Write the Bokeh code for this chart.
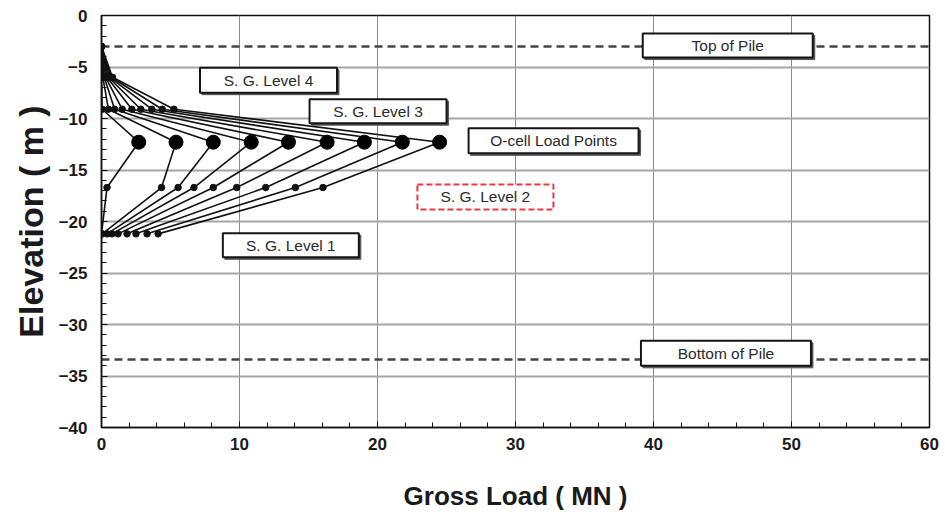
from bokeh.plotting import figure
from bokeh.models import Range1d, FixedTicker, Span
from bokeh.embed import file_html
from bokeh.resources import INLINE
from bokeh.core.properties import value

# ---- data -------------------------------------------------------------
# elevations of the gauge levels (m)
elev_top = -3.0
elev_sg4 = -6.0
elev_sg3 = -9.1
elev_ocell = -12.3
elev_sg2 = -16.7
elev_sg1 = -21.2
elev_bottom = -33.4

# gross load (MN) at each level, one value per load step
load_top = [0.0, 0.0, 0.0, 0.0, 0.0, 0.0, 0.0, 0.0, 0.0]
load_sg4 = [0.0, 0.1, 0.2, 0.3, 0.4, 0.5, 0.6, 0.7, 0.8]
load_sg3 = [0.05, 0.5, 0.95, 1.5, 2.2, 2.85, 3.65, 4.4, 5.25]
load_ocell = [2.7, 5.4, 8.1, 10.85, 13.55, 16.35, 19.05, 21.8, 24.5]
load_sg2 = [0.4, 4.35, 5.55, 6.7, 8.1, 9.8, 11.9, 14.05, 16.05]
load_sg1 = [0.0, 0.05, 0.4, 0.75, 1.2, 1.85, 2.5, 3.3, 4.1]

x_ticks = [0, 10, 20, 30, 40, 50, 60]
y_ticks = [0, -5, -10, -15, -20, -25, -30, -35, -40]

# annotation boxes: text, x, y (data), width, height (px)
box_text = ["Top of Pile", "Bottom of Pile", "S. G. Level 4", "S. G. Level 3",
            "O-cell Load Points", "S. G. Level 1"]
box_x = [45.38, 45.25, 12.1, 20.04, 32.76, 13.72]
box_y = [-2.92, -32.8, -6.28, -9.29, -12.17, -22.31]
box_w = [170, 170, 137, 137, 170, 136]
box_h = [24, 25, 25, 24, 25, 24]

red_text = ["S. G. Level 2"]
red_x = [27.82]
red_y = [-17.62]
red_w = [136]
red_h = [25]

# ---- figure -----------------------------------------------------------
W, H = 944, 517
ML, MR, MT, MB = 101, 15, 15, 90
x0, x1, y0, y1 = 0, 60, -40, 0

p = figure(width=W, height=H, output_backend="svg", toolbar_location=None,
           x_range=Range1d(x0, x1), y_range=Range1d(y0, y1),
           min_border_left=ML, min_border_right=MR, min_border_top=MT,
           min_border_bottom=MB)
p.background_fill_color = "white"
p.border_fill_color = "white"
p.outline_line_color = "#111111"
p.outline_line_width = 1.5

px_x = (W - ML - MR) / (x1 - x0)
px_y = (H - MT - MB) / (y1 - y0)

p.xaxis.ticker = FixedTicker(ticks=x_ticks, minor_ticks=list(range(0, 61, 2)))
p.yaxis.ticker = FixedTicker(ticks=y_ticks, minor_ticks=list(range(-40, 1, 1)))

for ax in (p.xaxis[0], p.yaxis[0]):
    ax.axis_line_color = "#111111"
    ax.axis_line_width = 1.5
    ax.major_tick_in = 6
    ax.major_tick_out = 0
    ax.minor_tick_in = 5
    ax.minor_tick_out = 0
    ax.major_tick_line_color = "#111111"
    ax.minor_tick_line_color = "#111111"
    ax.major_label_text_font = "Liberation Sans"
    ax.major_label_text_font_style = "bold"
    ax.major_label_text_font_size = "17px"
    ax.major_label_text_color = "#1a1a1a"
    ax.axis_label_text_font = "Liberation Sans"
    ax.axis_label_text_font_style = "bold"
    ax.axis_label_text_color = "#1a1a1a"

p.xaxis.axis_label = "Gross Load ( MN )"
p.xaxis.axis_label_text_font_size = "26px"
p.xaxis.major_label_standoff = 10
p.xaxis.axis_label_standoff = 28

p.yaxis.axis_label = "Elevation ( m )"
p.yaxis.axis_label_text_font_size = "34px"
p.yaxis.major_label_standoff = 14
p.yaxis.axis_label_standoff = 6

p.xgrid.grid_line_color = "#8a8a8a"
p.xgrid.grid_line_width = 1
p.ygrid.grid_line_color = "#a5a5a5"
p.ygrid.grid_line_width = 2

for loc in (elev_top, elev_bottom):
    p.add_layout(Span(location=loc, dimension="width", line_color="#444444",
                      line_width=2.5, line_dash="8 5", level="underlay"))

# ---- load distribution curves ---------------------------------------
elevs = [elev_top, elev_sg4, elev_sg3, elev_ocell, elev_sg2, elev_sg1]
xs, ys = [], []
for i in range(len(load_ocell)):
    xs.append([load_top[i], load_sg4[i], load_sg3[i], load_ocell[i],
               load_sg2[i], load_sg1[i]])
    ys.append(elevs)
p.multi_line(xs, ys, line_color="#111111", line_width=1.6)

small_x = load_top + load_sg4 + load_sg3 + load_sg2 + load_sg1
small_y = ([elev_top] * 9 + [elev_sg4] * 9 + [elev_sg3] * 9 +
           [elev_sg2] * 9 + [elev_sg1] * 9)
p.scatter(small_x, small_y, size=6.5, fill_color="#111111",
          line_color="#111111")
p.scatter(load_ocell, [elev_ocell] * len(load_ocell), size=14,
          fill_color="#000000", line_color="#000000")

# ---- annotation boxes -----------------------------------------------
dx, dy = 2 / px_x, -2 / px_y
p.rect([x + dx for x in box_x], [y + dy for y in box_y], box_w, box_h,
       width_units="screen", height_units="screen",
       fill_color="#555555", line_color="#555555", line_width=1)
p.rect(box_x, box_y, box_w, box_h, width_units="screen",
       height_units="screen", fill_color="white", line_color="#151515",
       line_width=2)
p.text(box_x, box_y, text=box_text, text_align="center",
       text_baseline="middle", text_font=value("Liberation Sans"),
       text_font_size="15.5px", text_color="#2a2a2a")

p.rect(red_x, red_y, red_w, red_h, width_units="screen",
       height_units="screen", fill_color="white", line_color="#e43b40",
       line_width=2, line_dash="6 3")
p.text(red_x, red_y, text=red_text, text_align="center",
       text_baseline="middle", text_font=value("Liberation Sans"),
       text_font_size="15.5px", text_color="#2a2a2a")

open("out.html", "w").write(file_html(p, INLINE))
